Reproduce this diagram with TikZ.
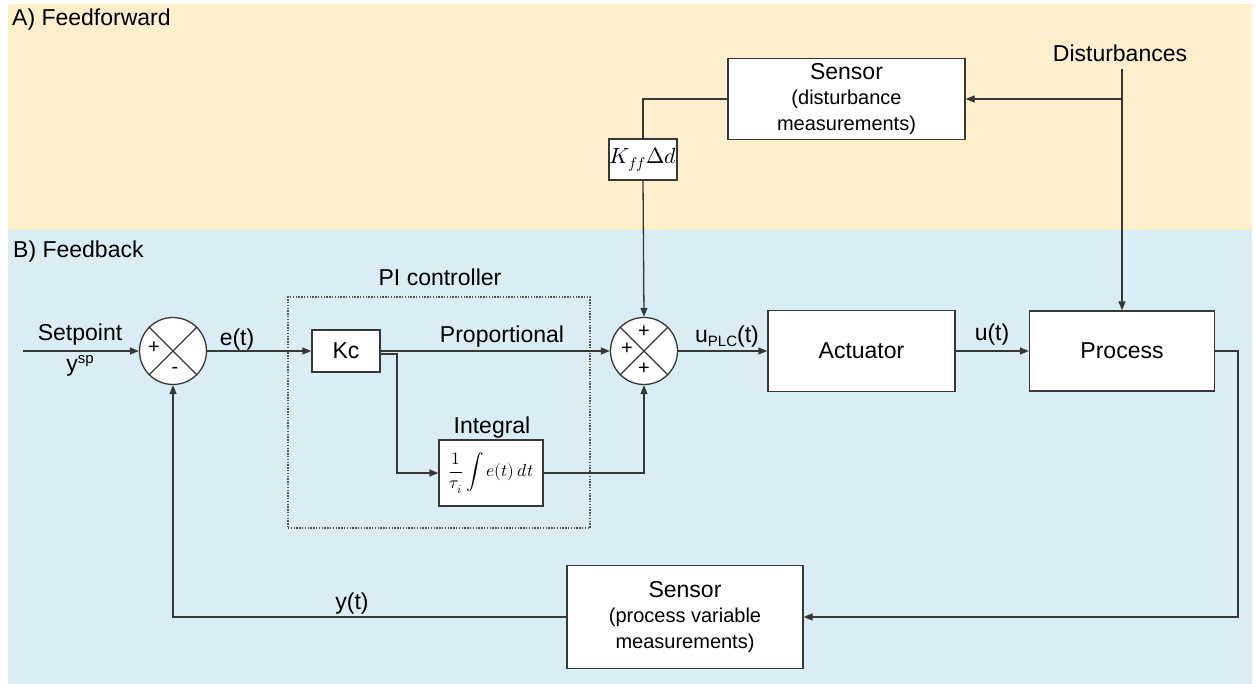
\documentclass[tikz,border=0pt]{standalone}
\usepackage{unicode-math}
\setmainfont{Liberation Sans}
\setmathfont{Latin Modern Math}
\usetikzlibrary{arrows.meta}
\definecolor{ffbg}{RGB}{253,239,204}
\definecolor{fbbg}{RGB}{219,237,244}
\definecolor{ln}{RGB}{55,55,55}
\newcommand{\bigtxt}{\fontsize{23}{26}\selectfont}
\newcommand{\subtxt}{\fontsize{20}{25.5}\selectfont}
\begin{document}
\begin{tikzpicture}[x=1pt,y=-1pt,
  blk/.style={draw=ln, fill=white, line width=1.3pt, inner sep=0pt, align=center, font=\bigtxt},
  lbl/.style={font=\bigtxt, inner sep=0pt},
  sumj/.style={circle, draw=ln, fill=white, line width=1.3pt, minimum size=67pt, inner sep=0pt},
  sgn/.style={font=\fontsize{20}{20}\selectfont, inner sep=0pt},
  wire/.style={draw=ln, line width=1.3pt},
  arr/.style={draw=ln, line width=1.3pt, -{Triangle[length=9pt,width=7pt]}}]

% canvas and the two shaded regions
\useasboundingbox (0,0) rectangle (1255,684);
\fill[white] (0,0) rectangle (1255,684);
\fill[ffbg] (8,4) rectangle (1252,230);
\fill[fbbg] (8,230) rectangle (1252,684);

\node[lbl, anchor=west] (secA) at (12,20) {A) Feedforward};
\node[lbl, anchor=west] (secB) at (13,252) {B) Feedback};

% PI controller frame
\node[draw=ln!85, line width=1.1pt, dash pattern=on 1.4pt off 1.4pt,
      minimum width=302pt, minimum height=231pt, inner sep=0pt] (pibox) at (439,412.5) {};
\node[lbl] (pilbl) at (440,277) {PI controller};

% blocks
\node[blk, minimum width=237pt, minimum height=81pt] (sensD) at (846.5,99)
  {Sensor\\[-1pt]\subtxt(disturbance\\\subtxt measurements)};
\node[blk, minimum width=68pt, minimum height=41pt, font=\fontsize{22}{24}\selectfont] (kff) at (643,159.5)
  {$K_{ff}\Delta d$};
\node[sumj] (sum1) at (173,351) {};
\node[blk, minimum width=68pt, minimum height=42pt] (kc) at (346,351) {Kc};
\node[blk, minimum width=104pt, minimum height=66pt, font=\fontsize{17.5}{20}\selectfont] (integ) at (491,473)
  {$\displaystyle\frac{1}{\tau_i}\int e(t)\,dt$};
\node[sumj] (sum2) at (644,351) {};
\node[blk, minimum width=187pt, minimum height=81pt] (act) at (861.5,351) {Actuator};
\node[blk, minimum width=185pt, minimum height=80pt] (proc) at (1122,351) {Process};
\node[blk, minimum width=236pt, minimum height=103pt] (sensP) at (685,617)
  {Sensor\\[-1pt]\subtxt(process variable\\\subtxt measurements)};

% summing junction crosses and signs
\draw[wire] (sum1.45) -- (sum1.225) (sum1.135) -- (sum1.315);
\draw[wire] (sum2.45) -- (sum2.225) (sum2.135) -- (sum2.315);
\node[sgn] (s1p) at ([shift={(-19,-3)}]sum1.center) {+};
\node[sgn] (s1m) at ([shift={(2,19)}]sum1.center) {-};
\node[sgn] (s2l) at ([shift={(-17,-2)}]sum2.center) {+};
\node[sgn] (s2t) at ([shift={(0,-19)}]sum2.center) {+};
\node[sgn] (s2b) at ([shift={(0,18)}]sum2.center) {+};

% signal labels
\node[lbl] (dist) at (1120,53) {Disturbances};
\node[lbl] (sp) at (80,335) {Setpoint};
\node[lbl] (ysp) at (80,366) {y\raisebox{8pt}{\fontsize{15}{15}\selectfont sp}};
\node[lbl] (et) at (237,340) {e(t)};
\node[lbl] (prop) at (502,337) {Proportional};
\node[lbl] (intl) at (492,428) {Integral};
\node[lbl] (uplc) at (727,337) {u\raisebox{-4pt}{\fontsize{15}{15}\selectfont PLC}(t)};
\node[lbl] (ut) at (992,335) {u(t)};
\node[lbl] (yt) at (352,604) {y(t)};

% free ends
\coordinate (spin) at (23,351);
\coordinate (dtop) at (1122,69);
\coordinate (dtap) at (1122,99);
\coordinate (ktap) at (397,354);
\coordinate (pout) at (1238,351);

% connectors
\draw[arr] (spin) -- (sum1.west);
\draw[arr] (sum1.east) -- (kc.west);
\draw[arr] (kc.east) -- (sum2.west);
\draw[arr] ([yshift=-3pt]kc.east) -| (ktap) |- (integ.west);
\draw[arr] (integ.east) -| (sum2.south);
\draw[wire] (sensD.west) -| (kff.north);
\draw[arr] (kff.south) -- (sum2.north);
\draw[arr] (dtop) -- (proc.north);
\draw[arr] (dtap) -- (sensD.east);
\draw[arr] (sum2.east) -- (act.west);
\draw[arr] (act.east) -- (proc.west);
\draw[arr] (proc.east) -- (pout) |- (sensP.east);
\draw[arr] (sensP.west) -| (sum1.south);
\end{tikzpicture}
\end{document}
